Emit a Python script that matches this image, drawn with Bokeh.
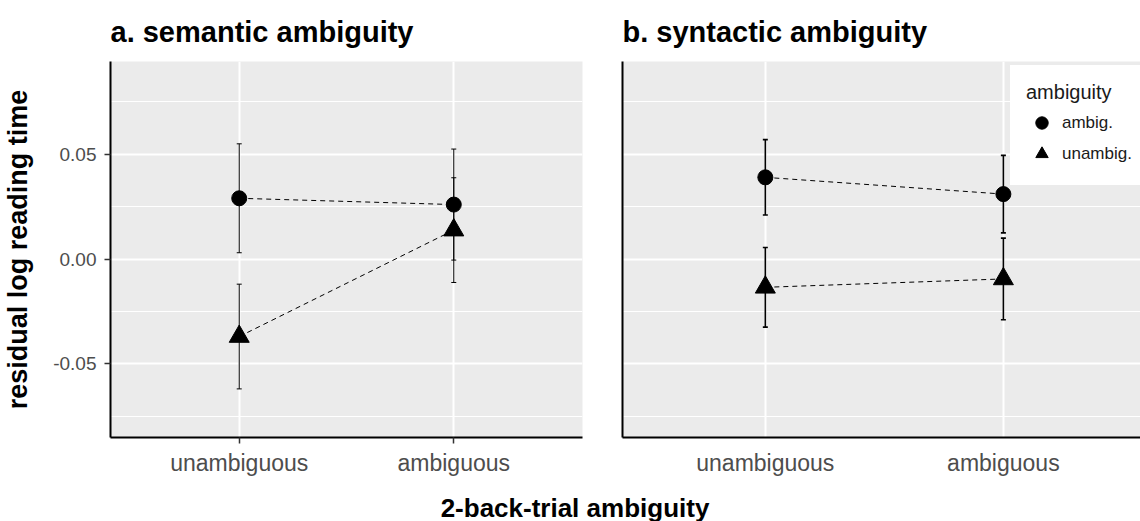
from bokeh.plotting import figure
from bokeh.models import (ColumnDataSource, Whisker, FixedTicker, Range1d, Legend,
                          LegendItem, Div, TeeHead)
from bokeh.layouts import row, column
from bokeh.embed import file_html
from bokeh.resources import INLINE

# ---------------- data ----------------
conditions = ["unambiguous", "ambiguous"]          # 2-back-trial ambiguity (x)
groups = ["ambig.", "unambig."]                    # legend: ambiguity

# a. semantic ambiguity
sem_ambig_mean = [0.029, 0.026]
sem_ambig_err = [0.026, 0.0265]
sem_unambig_mean = [-0.037, 0.0138]
sem_unambig_err = [0.025, 0.025]

# b. syntactic ambiguity
syn_ambig_mean = [0.039, 0.031]
syn_ambig_err = [0.018, 0.0185]
syn_unambig_mean = [-0.0135, -0.0095]
syn_unambig_err = [0.019, 0.0195]

y_ticks = [-0.05, 0.0, 0.05]
y_minor = [-0.075, -0.025, 0.025, 0.075]
y_labels = {-0.05: "-0.05", 0.0: "0.00", 0.05: "0.05"}

FONT = "Liberation Sans"
FRAME_H = 377
TOP = 60
BOTTOM = 41


def make_panel(title, am, ae, um, ue, width, bl, br, x_end, first, err_w):
    xs = [i + 1 for i in range(len(conditions))]
    p = figure(width=width, height=TOP + FRAME_H + BOTTOM, output_backend="svg",
               toolbar_location=None, x_range=Range1d(0.4, x_end),
               y_range=Range1d(-0.0852, 0.0943),
               min_border_left=bl, min_border_right=br,
               min_border_top=TOP, min_border_bottom=BOTTOM)
    p.background_fill_color = "#EBEBEB"
    p.border_fill_color = "white"
    p.outline_line_color = None

    p.title.text = title
    p.title.text_font = FONT
    p.title.text_font_size = "29px"
    p.title.text_font_style = "bold"
    p.title.text_color = "black"
    p.title.align = "left"
    p.title.offset = 0
    p.title.standoff = 27

    # axes
    p.xaxis.ticker = FixedTicker(ticks=xs)
    p.xaxis.major_label_overrides = {x: c for x, c in zip(xs, conditions)}
    p.ygrid.ticker = FixedTicker(ticks=y_ticks, minor_ticks=y_minor)
    for ax in (p.xaxis[0], p.yaxis[0]):
        ax.axis_line_color = "black"
        ax.axis_line_width = 2
        ax.major_tick_line_color = "#333333"
        ax.major_tick_line_width = 1.5
        ax.major_tick_in = 0
        ax.minor_tick_line_color = None
        ax.major_label_text_font = FONT
        ax.major_label_text_color = "#4D4D4D"
    p.xaxis.major_label_text_font_size = "23px"
    p.yaxis.major_label_text_font_size = "19px"
    p.xaxis.major_label_standoff = 6
    p.yaxis.major_label_standoff = 8
    if first:
        p.yaxis.ticker = FixedTicker(ticks=y_ticks, minor_ticks=y_minor)
        p.yaxis.major_label_overrides = y_labels
        p.xaxis.major_tick_out = 6
        p.yaxis.major_tick_out = 6
        p.yaxis.axis_label = "residual log reading time"
        p.yaxis.axis_label_text_font = FONT
        p.yaxis.axis_label_text_font_size = "27px"
        p.yaxis.axis_label_text_font_style = "bold"
        p.yaxis.axis_label_text_color = "black"
        p.yaxis.axis_label_standoff = 17
    else:
        p.yaxis.ticker = FixedTicker(ticks=[])
        p.xaxis.major_tick_out = 0
        p.xaxis.major_label_standoff = 12
        p.yaxis.major_tick_out = 0
        p.yaxis.major_label_standoff = 0

    # grid
    p.xgrid.grid_line_color = "white"
    p.xgrid.grid_line_width = 2
    p.ygrid.grid_line_color = "white"
    p.ygrid.grid_line_width = 2
    p.ygrid.minor_grid_line_color = "white"
    p.ygrid.minor_grid_line_width = 1

    renderers = []
    for mean, err, marker, size in ((am, ae, "circle", 15), (um, ue, "triangle", 20)):
        src = ColumnDataSource(dict(x=xs, y=mean,
                                    lo=[m - e for m, e in zip(mean, err)],
                                    hi=[m + e for m, e in zip(mean, err)]))
        w = Whisker(base="x", upper="hi", lower="lo", source=src, dimension="height",
                    line_color="black", line_width=err_w,
                    upper_head=TeeHead(size=5, line_width=err_w, line_color="black"),
                    lower_head=TeeHead(size=5, line_width=err_w, line_color="black"))
        p.add_layout(w)
        p.line("x", "y", source=src, line_color="black", line_width=1, line_dash="5 4")
        r = p.scatter("x", "y", source=src, marker=marker, size=size,
                      fill_color="black", line_color="black")
        renderers.append(r)
    return p, renderers


pa, _ = make_panel("a. semantic ambiguity", sem_ambig_mean, sem_ambig_err,
                   sem_unambig_mean, sem_unambig_err, 600, 110, 18, 2.6, True, 1)
pb, rb = make_panel("b. syntactic ambiguity", syn_ambig_mean, syn_ambig_err,
                    syn_unambig_mean, syn_unambig_err, 540, 22, 0, 2.576, False, 1.6)

legend = Legend(items=[LegendItem(label=groups[0], renderers=[rb[0]]),
                       LegendItem(label=groups[1], renderers=[rb[1]])],
                title="ambiguity", location=(388, 252))
legend.background_fill_color = "white"
legend.background_fill_alpha = 1
legend.border_line_color = "white"
legend.border_line_width = 1
legend.title_text_font = FONT
legend.title_text_font_size = "20px"
legend.title_text_font_style = "normal"
legend.title_text_color = "#1A1A1A"
legend.title_standoff = 3
legend.label_text_font = FONT
legend.label_text_font_size = "17px"
legend.label_text_color = "#1A1A1A"
legend.glyph_width = 31
legend.glyph_height = 31
legend.spacing = 0
legend.padding = 15
legend.label_standoff = 5
legend.margin = 0
pb.add_layout(legend)

xlab = Div(text="<div style='padding-top:10px;line-height:30px'>2-back-trial ambiguity</div>",
           width=1140, height=40,
           styles={"text-align": "center", "font-family": FONT, "font-weight": "bold",
                   "font-size": "26px", "color": "black", "width": "1140px"})

layout = column(row(pa, pb, spacing=0), xlab, spacing=0)
open("out.html", "w").write(file_html(layout, INLINE))
